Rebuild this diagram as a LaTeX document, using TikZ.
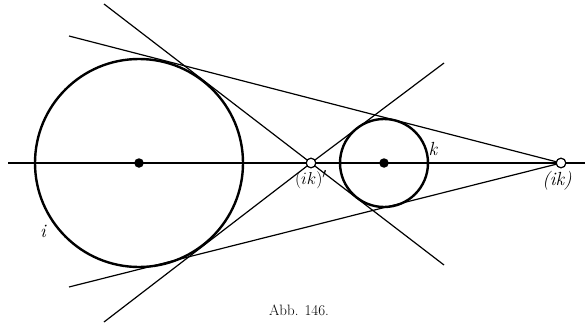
\documentclass[tikz,border=0pt]{standalone}
\begin{document}
\begin{tikzpicture}[x=1pt, y=-1pt,
    axis line/.style={line width=2.5pt},
    rim line/.style={line width=2.4pt},
    tangent line/.style={line width=1.2pt},
    center dot/.style={circle, fill, inner sep=0pt, minimum size=9.5pt},
    sim point/.style={circle, draw, fill=white, line width=1.1pt, inner sep=0pt, minimum size=9.5pt},
    lbl/.style={font=\fontsize{19}{22}\selectfont\itshape}]
    \useasboundingbox (0,0) rectangle (585,326);

    \coordinate (axisL) at (8,163);
    \coordinate (axisR) at (585,163);

    \node[center dot] (mi) at (139,163) {};
    \node[center dot] (mk) at (384,163) {};

    \coordinate (innerA) at (104,4);
    \coordinate (innerB) at (444,265);
    \coordinate (innerC) at (104,322);
    \coordinate (innerD) at (444,63);
    \coordinate (outerA) at (69,36);
    \coordinate (outerB) at (69,287);

    \draw[axis line] (axisL) -- (axisR);

    \draw[rim line] (mi.center) circle[radius=104pt];
    \draw[rim line] (mk.center) circle[radius=44pt];

    \node[sim point] (ikin) at (311,163) {};
    \node[sim point] (ikout) at (561,163) {};

    \draw[tangent line] (innerA) -- (ikin.center) -- (innerB);
    \draw[tangent line] (innerC) -- (ikin.center) -- (innerD);
    \draw[tangent line] (outerA) -- (ikout.center);
    \draw[tangent line] (outerB) -- (ikout.center);

    % redraw the open points on top
    \node[sim point] at (ikin.center) {};
    \node[sim point] at (ikout.center) {};

    \node[lbl] (lbli) at (43,231) {i};
    \node[lbl] (lblk) at (433,149) {k};
    \node[font=\fontsize{19}{22}\selectfont] (lblin) at (311,180) {$(ik)'$};
    \node[lbl] (lblout) at (557,181) {(ik)};

    \node[font=\fontsize{15}{18}\selectfont] (caption) at (299,310) {Abb. 146.};
\end{tikzpicture}
\end{document}
